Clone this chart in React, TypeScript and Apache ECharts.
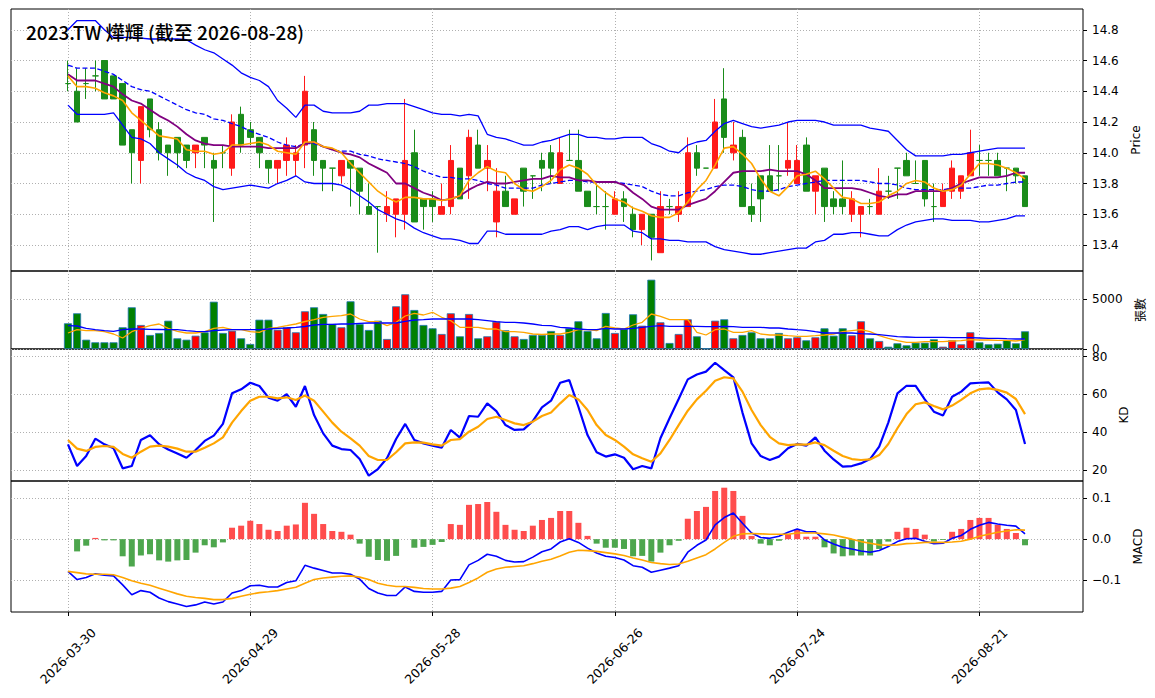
import React, { useEffect, useRef } from "react";
import * as echarts from "echarts";

const TITLE = "2023.TW 燁輝 (截至 2026-08-28)";

const DATES = [
  "2026-03-30", "2026-03-31",
  "2026-04-01", "2026-04-02", "2026-04-07", "2026-04-08", "2026-04-09", "2026-04-10", "2026-04-13", "2026-04-14",
  "2026-04-15", "2026-04-16", "2026-04-17", "2026-04-20", "2026-04-21", "2026-04-22", "2026-04-23", "2026-04-24",
  "2026-04-27", "2026-04-28", "2026-04-29", "2026-04-30",
  "2026-05-04", "2026-05-05", "2026-05-06", "2026-05-07", "2026-05-08", "2026-05-11", "2026-05-12", "2026-05-13",
  "2026-05-14", "2026-05-15", "2026-05-18", "2026-05-19", "2026-05-20", "2026-05-21", "2026-05-22", "2026-05-25",
  "2026-05-26", "2026-05-27", "2026-05-28", "2026-05-29",
  "2026-06-01", "2026-06-02", "2026-06-03", "2026-06-04", "2026-06-05", "2026-06-08", "2026-06-09", "2026-06-10",
  "2026-06-11", "2026-06-12", "2026-06-15", "2026-06-16", "2026-06-17", "2026-06-18", "2026-06-22", "2026-06-23",
  "2026-06-24", "2026-06-25", "2026-06-26", "2026-06-29", "2026-06-30",
  "2026-07-01", "2026-07-02", "2026-07-03", "2026-07-06", "2026-07-07", "2026-07-08", "2026-07-09", "2026-07-10",
  "2026-07-13", "2026-07-14", "2026-07-15", "2026-07-16", "2026-07-17", "2026-07-20", "2026-07-21", "2026-07-22",
  "2026-07-23", "2026-07-24", "2026-07-27", "2026-07-28", "2026-07-29", "2026-07-30", "2026-07-31",
  "2026-08-03", "2026-08-04", "2026-08-05", "2026-08-06", "2026-08-07", "2026-08-10", "2026-08-11", "2026-08-12",
  "2026-08-13", "2026-08-14", "2026-08-17", "2026-08-18", "2026-08-19", "2026-08-20", "2026-08-21", "2026-08-24",
  "2026-08-25", "2026-08-26", "2026-08-27", "2026-08-28",
];

const OPEN = [
  14.45, 14.4, 14.45, 14.5, 14.6, 14.5, 14.45, 14.15, 13.95, 14.35,
  14.15, 14.05, 14.1, 14.05, 14.0, 14.1, 13.95, 14.0, 13.9, 14.25,
  14.15, 14.1, 13.95, 13.9, 13.95, 13.95, 14.05, 14.15, 13.95, 13.9,
  13.85, 13.95, 13.9, 13.65, 13.65, 13.6, 13.6, 13.6, 14.0, 13.7,
  13.7, 13.6, 13.65, 13.9, 13.85, 14.05, 13.9, 13.55, 13.75, 13.6,
  13.9, 13.85, 13.95, 14.0, 13.8, 13.95, 13.95, 13.75, 13.65, 13.65,
  13.6, 13.7, 13.6, 13.5, 13.6, 13.35, 13.65, 13.6, 13.65, 14.0,
  13.9, 13.9, 14.35, 14.0, 14.1, 13.65, 13.85, 13.85, 13.85, 13.9,
  13.8, 14.05, 13.75, 13.9, 13.7, 13.7, 13.6, 13.6, 13.65, 13.6,
  13.75, 13.9, 13.95, 13.8, 13.95, 13.65, 13.65, 13.75, 13.75, 13.85,
  13.95, 13.95, 13.95, 13.9, 13.9, 13.85,
];
const CLOSE = [
  14.45, 14.2, 14.45, 14.5, 14.35, 14.35, 14.05, 14.0, 14.3, 14.15,
  14.0, 14.0, 14.0, 13.95, 14.05, 14.05, 13.9, 14.0, 14.2, 14.05,
  14.1, 14.0, 13.9, 13.95, 14.05, 14.0, 14.4, 13.95, 13.9, 13.9,
  13.95, 13.9, 13.75, 13.6, 13.65, 13.65, 13.7, 13.95, 13.55, 13.65,
  13.65, 13.65, 13.95, 13.7, 14.1, 13.9, 13.95, 13.75, 13.65, 13.7,
  13.75, 13.85, 13.9, 13.9, 14.0, 13.95, 13.75, 13.65, 13.65, 13.65,
  13.7, 13.65, 13.5, 13.6, 13.45, 13.65, 13.65, 13.65, 14.0, 13.9,
  13.9, 14.2, 14.1, 14.05, 13.65, 13.6, 13.7, 13.75, 13.85, 13.95,
  13.95, 13.75, 13.85, 13.65, 13.65, 13.65, 13.7, 13.65, 13.65, 13.75,
  13.75, 13.9, 13.85, 13.8, 13.7, 13.65, 13.75, 13.9, 13.85, 14.0,
  13.95, 13.95, 13.85, 13.9, 13.85, 13.65,
];
const HIGH = [
  14.6, 14.55, 14.55, 14.6, 14.6, 14.5, 14.45, 14.15, 14.3, 14.35,
  14.2, 14.05, 14.1, 14.05, 14.05, 14.1, 14.0, 14.05, 14.25, 14.3,
  14.2, 14.1, 13.95, 13.95, 14.1, 14.05, 14.5, 14.2, 13.95, 13.9,
  13.95, 13.95, 13.9, 13.8, 13.65, 13.75, 13.7, 14.35, 14.15, 13.7,
  13.75, 13.8, 14.05, 13.9, 14.15, 14.15, 14.05, 13.9, 13.85, 13.7,
  13.9, 13.85, 14.0, 14.05, 14.1, 14.15, 14.15, 13.75, 13.8, 13.75,
  13.75, 13.75, 13.65, 13.6, 13.6, 13.75, 13.7, 13.75, 14.1, 14.05,
  13.9, 14.35, 14.55, 14.2, 14.15, 13.8, 13.85, 14.05, 14.05, 14.2,
  14.05, 14.1, 13.85, 13.9, 13.75, 13.95, 13.75, 13.65, 13.7, 13.9,
  13.85, 13.9, 14.0, 13.95, 13.95, 13.8, 13.8, 13.95, 13.85, 14.15,
  14.05, 14.0, 14.0, 13.9, 13.9, 13.85,
];
const LOW = [
  14.4, 14.2, 14.35, 14.4, 14.35, 14.35, 14.05, 13.8, 13.8, 14.1,
  13.95, 13.85, 13.9, 13.9, 13.9, 13.9, 13.55, 13.9, 13.85, 14.0,
  14.05, 13.9, 13.8, 13.8, 13.85, 13.85, 13.9, 13.85, 13.75, 13.75,
  13.8, 13.65, 13.6, 13.6, 13.35, 13.55, 13.45, 13.5, 13.55, 13.5,
  13.55, 13.6, 13.6, 13.7, 13.7, 13.9, 13.75, 13.45, 13.65, 13.6,
  13.65, 13.7, 13.75, 13.8, 13.8, 13.95, 13.75, 13.65, 13.6, 13.5,
  13.6, 13.55, 13.45, 13.4, 13.3, 13.35, 13.6, 13.55, 13.65, 13.85,
  13.9, 13.9, 14.0, 13.95, 13.65, 13.55, 13.55, 13.75, 13.75, 13.85,
  13.8, 13.75, 13.6, 13.55, 13.6, 13.6, 13.55, 13.45, 13.6, 13.6,
  13.7, 13.7, 13.85, 13.8, 13.65, 13.55, 13.65, 13.7, 13.7, 13.85,
  13.85, 13.85, 13.85, 13.75, 13.8, 13.65,
];

const BB_UPPER = [
  14.8, 14.86, 14.86, 14.86, 14.8, 14.75, 14.75, 14.75, 14.745, 14.74,
  14.74, 14.74, 14.74, 14.735, 14.7, 14.67, 14.65, 14.61, 14.57, 14.52,
  14.49, 14.47, 14.43, 14.34, 14.29, 14.23, 14.31, 14.31, 14.27, 14.26,
  14.26, 14.26, 14.27, 14.31, 14.31, 14.32, 14.32, 14.32, 14.3, 14.28,
  14.26, 14.25, 14.25, 14.24, 14.25, 14.24, 14.12, 14.1, 14.09, 14.07,
  14.05, 14.05, 14.07, 14.08, 14.1, 14.12, 14.12, 14.1, 14.1, 14.09,
  14.09, 14.1, 14.1, 14.1, 14.06, 14.04, 14.01, 14.0, 14.05, 14.07,
  14.08, 14.14, 14.19, 14.21, 14.19, 14.17, 14.16, 14.17, 14.18, 14.2,
  14.21, 14.21, 14.21, 14.2, 14.18, 14.18, 14.18, 14.18, 14.16, 14.15,
  14.14, 14.08, 14.02, 13.98, 13.98, 13.98, 13.98, 13.99, 13.99, 14.0,
  14.01, 14.02, 14.03, 14.03, 14.03, 14.03,
];
const BB_MID = [
  14.57, 14.55, 14.55, 14.55, 14.53, 14.51, 14.47, 14.43, 14.41, 14.4,
  14.37, 14.34, 14.31, 14.28, 14.26, 14.25, 14.22, 14.21, 14.19, 14.17,
  14.14, 14.12, 14.1, 14.07, 14.05, 14.04, 14.06, 14.06, 14.04, 14.02,
  14.01, 14.01, 13.99, 13.98, 13.96, 13.95, 13.94, 13.93, 13.91, 13.88,
  13.86, 13.84, 13.84, 13.83, 13.83, 13.82, 13.8, 13.79, 13.77, 13.77,
  13.77, 13.77, 13.79, 13.8, 13.81, 13.82, 13.82, 13.81, 13.81, 13.81,
  13.81, 13.8, 13.79, 13.78, 13.75, 13.73, 13.72, 13.72, 13.74, 13.75,
  13.76, 13.78, 13.79, 13.79, 13.78, 13.76, 13.75, 13.75, 13.76, 13.78,
  13.79, 13.8, 13.81, 13.82, 13.82, 13.82, 13.82, 13.82, 13.81, 13.8,
  13.8, 13.79, 13.77, 13.76, 13.76, 13.76, 13.76, 13.77, 13.77, 13.77,
  13.78, 13.79, 13.79, 13.8, 13.81, 13.81,
];
const BB_LOWER = [
  14.31, 14.25, 14.25, 14.25, 14.25, 14.26, 14.18, 14.1, 14.09, 14.06,
  14.0, 13.96, 13.92, 13.87, 13.84, 13.82, 13.78, 13.76, 13.77, 13.78,
  13.79, 13.78, 13.77, 13.8, 13.82, 13.85, 13.81, 13.8, 13.8, 13.8,
  13.79, 13.76, 13.72, 13.68, 13.63, 13.6, 13.57, 13.55, 13.51, 13.48,
  13.46, 13.44, 13.44, 13.43, 13.41, 13.41, 13.49, 13.49, 13.47, 13.47,
  13.47, 13.47, 13.47, 13.49, 13.5, 13.52, 13.52, 13.5, 13.52, 13.53,
  13.53, 13.53, 13.49, 13.48, 13.44, 13.44, 13.43, 13.43, 13.42, 13.42,
  13.42, 13.39, 13.37, 13.36, 13.35, 13.34, 13.34, 13.35, 13.36, 13.37,
  13.38, 13.38, 13.42, 13.43, 13.47, 13.47, 13.48, 13.48, 13.47, 13.46,
  13.46, 13.5, 13.53, 13.55, 13.56, 13.57, 13.57, 13.56, 13.56, 13.56,
  13.55, 13.55, 13.56, 13.57, 13.59, 13.59,
];
const MA5 = [
  14.5, 14.43, 14.43, 14.42, 14.39, 14.37, 14.34, 14.26, 14.21, 14.16,
  14.11, 14.1, 14.09, 14.02, 14.01, 14.01, 13.99, 14.0, 14.05, 14.05,
  14.06, 14.07, 14.05, 14.01, 14.0, 13.99, 14.07, 14.07, 14.04, 14.03,
  14.0, 13.93, 13.87, 13.81, 13.75, 13.71, 13.68, 13.71, 13.71, 13.7,
  13.7, 13.69, 13.7, 13.72, 13.82, 13.87, 13.91, 13.88, 13.87, 13.8,
  13.76, 13.75, 13.78, 13.82, 13.89, 13.92, 13.9, 13.86, 13.79, 13.74,
  13.7, 13.68, 13.64, 13.62, 13.59, 13.58, 13.58, 13.61, 13.68, 13.76,
  13.82, 13.92, 14.03, 14.04, 13.99, 13.93, 13.83, 13.75, 13.72, 13.78,
  13.85, 13.86, 13.88, 13.83, 13.77, 13.71, 13.7, 13.67, 13.67, 13.68,
  13.72, 13.75, 13.8, 13.82, 13.81, 13.77, 13.75, 13.76, 13.79, 13.86,
  13.93, 13.93, 13.92, 13.9, 13.87, 13.83,
];
const MA10 = [
  14.51, 14.47, 14.47, 14.47, 14.45, 14.43, 14.38, 14.34, 14.32, 14.28,
  14.24, 14.21, 14.17, 14.12, 14.08, 14.06, 14.05, 14.05, 14.04, 14.04,
  14.04, 14.04, 14.03, 14.03, 14.03, 14.03, 14.06, 14.07, 14.04, 14.02,
  14.0, 13.99, 13.97, 13.93, 13.9, 13.87, 13.8, 13.8, 13.77, 13.74,
  13.72, 13.69, 13.7, 13.72, 13.76, 13.79, 13.81, 13.8, 13.8, 13.81,
  13.82, 13.83, 13.83, 13.85, 13.84, 13.84, 13.82, 13.82, 13.81, 13.81,
  13.81, 13.79, 13.74, 13.7, 13.65, 13.63, 13.63, 13.63, 13.66, 13.68,
  13.7, 13.75, 13.81, 13.87, 13.88, 13.88, 13.88, 13.89, 13.88, 13.88,
  13.88, 13.86, 13.82, 13.77, 13.77, 13.77, 13.77, 13.76, 13.74, 13.72,
  13.71, 13.73, 13.73, 13.75, 13.75, 13.75, 13.75, 13.77, 13.8, 13.82,
  13.84, 13.84, 13.84, 13.85, 13.87, 13.87,
];

const VOLUME = [
  2570, 3570, 930, 670, 670, 670, 2170, 4170, 2400, 1400,
  1600, 2830, 1070, 930, 1330, 1670, 4730, 1600, 1830, 1070,
  500, 2930, 2930, 1930, 2170, 1670, 3770, 4170, 3500, 2500,
  2170, 4770, 2500, 1900, 2830, 1000, 4270, 5470, 3900, 2400,
  2070, 1500, 3570, 1270, 3500, 1070, 1270, 2730, 1870, 1270,
  1000, 1400, 1400, 1800, 1400, 2070, 2770, 1800, 1070, 3600,
  1600, 2000, 3470, 2330, 6930, 2670, 600, 1500, 2970, 1270,
  50, 2830, 2970, 1070, 1400, 1670, 1070, 1070, 1600, 1070,
  1170, 870, 1170, 2070, 1330, 2070, 1370, 2770, 1070, 800,
  230, 570, 370, 630, 630, 970, 230, 870, 470, 1670,
  670, 470, 530, 900, 570, 1770,
];
const VOL_MA5 = [
  1600, 1930, 1830, 1830, 1730, 1500, 1100, 1730, 2070, 2330,
  2500, 2070, 1770, 1600, 1600, 1730, 2070, 2170, 1930, 1930,
  1730, 1670, 2070, 2170, 2330, 2500, 2750, 2930, 3170, 3270,
  3330, 3500, 3000, 2730, 2730, 2330, 2670, 3300, 3570, 3400,
  3670, 3170, 2830, 2170, 2170, 2170, 2000, 2000, 1730, 1730,
  1670, 1500, 1450, 1500, 1500, 1670, 1930, 1930, 1830, 2270,
  2100, 2000, 2400, 2670, 3500, 3270, 2930, 2930, 2930, 1670,
  1400, 1930, 2000, 1670, 1670, 1830, 1500, 1400, 1400, 1330,
  1270, 1270, 1330, 1400, 1500, 1730, 1830, 1930, 1730, 1330,
  1070, 830, 670, 670, 730, 730, 730, 800, 830, 930,
  900, 900, 870, 870, 800, 930,
];
const VOL_MA20 = [
  2330, 2300, 2070, 1930, 1830, 1770, 1930, 2000, 2000, 1970,
  1950, 1930, 1930, 1830, 1770, 1730, 1830, 1900, 1930, 1930,
  1930, 1930, 2000, 2070, 2100, 2170, 2250, 2400, 2470, 2470,
  2500, 2500, 2570, 2600, 2600, 2600, 2600, 2770, 2900, 2930,
  3000, 3000, 3000, 3000, 3000, 2930, 2830, 2730, 2670, 2670,
  2600, 2500, 2370, 2330, 2170, 2100, 2000, 1930, 1930, 2070,
  2000, 2000, 2070, 2170, 2270, 2330, 2270, 2270, 2270, 2270,
  2230, 2230, 2270, 2230, 2170, 2170, 2170, 2100, 2100, 2000,
  1930, 1870, 1730, 1600, 1600, 1600, 1600, 1530, 1500, 1430,
  1330, 1230, 1200, 1170, 1170, 1170, 1170, 1130, 1130, 1130,
  1100, 1070, 1070, 1030, 1000, 1000,
];

const K_LINE = [
  33.6, 22.1, 27.4, 36.6, 33.6, 31.5, 20.9, 22.1, 35.9, 38.4,
  33.6, 30.9, 28.8, 26.5, 30.6, 35.4, 38.2, 44.4, 60.6, 62.7,
  66.2, 64.5, 58.3, 56.7, 60.1, 53.5, 64.5, 49.1, 39.4, 32.9,
  31.1, 30.6, 25.8, 17.0, 20.5, 26.2, 36.4, 44.4, 35.9, 34.1,
  32.9, 31.8, 41.2, 37.1, 48.6, 48.2, 55.3, 51.2, 43.8, 41.2,
  41.5, 45.9, 53.2, 56.7, 66.2, 67.6, 53.5, 38.5, 29.4, 27.1,
  28.3, 26.5, 20.4, 22.1, 20.9, 36.8, 47.4, 57.6, 68.0, 70.6,
  72.1, 76.8, 72.9, 69.1, 50.4, 34.1, 27.4, 25.3, 27.1, 31.5,
  33.8, 32.9, 37.3, 30.2, 25.6, 21.8, 22.1, 23.5, 25.8, 32.4,
  45.1, 60.6, 64.6, 64.5, 57.4, 50.9, 48.8, 58.8, 61.5, 65.9,
  66.2, 66.4, 61.1, 57.4, 51.8, 33.8,
];
const D_LINE = [
  35.9, 31.3, 30.1, 32.2, 32.7, 32.2, 28.5, 26.5, 29.7, 32.4,
  32.9, 32.4, 31.3, 29.7, 29.7, 31.8, 34.1, 37.3, 45.1, 51.2,
  56.7, 58.8, 58.8, 57.9, 58.5, 57.1, 59.4, 56.7, 50.9, 45.1,
  40.3, 36.8, 32.9, 27.4, 25.3, 25.3, 29.4, 34.1, 34.6, 34.5,
  33.6, 32.9, 35.9, 36.4, 40.3, 42.9, 47.0, 48.2, 46.5, 44.7,
  43.8, 45.6, 48.6, 50.4, 55.3, 59.7, 57.4, 51.8, 43.8, 38.5,
  35.9, 32.4, 28.3, 26.2, 24.4, 28.8, 35.9, 43.8, 51.4, 57.4,
  62.0, 67.3, 69.1, 68.5, 61.5, 51.8, 43.8, 37.6, 34.1, 33.2,
  33.6, 33.4, 34.6, 33.2, 30.2, 27.4, 25.8, 25.3, 25.6, 27.9,
  33.8, 42.1, 49.6, 54.8, 55.8, 53.9, 52.1, 54.1, 57.1, 60.6,
  62.7, 63.2, 62.4, 61.0, 57.6, 49.6,
];

const DIF = [
  -0.079, -0.099, -0.094, -0.085, -0.088, -0.09, -0.112, -0.136, -0.126, -0.13,
  -0.144, -0.153, -0.159, -0.165, -0.161, -0.154, -0.159, -0.154, -0.132, -0.126,
  -0.114, -0.113, -0.117, -0.117, -0.106, -0.102, -0.064, -0.071, -0.077, -0.083,
  -0.083, -0.086, -0.098, -0.121, -0.132, -0.138, -0.138, -0.117, -0.128, -0.13,
  -0.13, -0.128, -0.1, -0.099, -0.063, -0.052, -0.037, -0.042, -0.052, -0.056,
  -0.055, -0.044, -0.031, -0.024, -0.007, 0.001, -0.008, -0.022, -0.034, -0.042,
  -0.045, -0.051, -0.065, -0.069, -0.081, -0.076, -0.071, -0.065, -0.032, -0.015,
  -0.002, 0.035, 0.053, 0.064, 0.039, 0.015, 0.004, 0.002, 0.007, 0.017,
  0.025, 0.018, 0.018, -0.002, -0.012, -0.02, -0.024, -0.029, -0.032, -0.028,
  -0.018, -0.006, 0.001, 0.002, -0.005, -0.011, -0.01, 0.002, 0.009, 0.024,
  0.034, 0.041, 0.037, 0.034, 0.032, 0.013,
];
const DEA = [
  -0.079, -0.082, -0.085, -0.086, -0.086, -0.087, -0.094, -0.102, -0.108, -0.113,
  -0.12, -0.127, -0.134, -0.14, -0.143, -0.145, -0.148, -0.148, -0.145, -0.14,
  -0.135, -0.131, -0.129, -0.126, -0.122, -0.118, -0.108, -0.099, -0.095, -0.093,
  -0.091, -0.09, -0.093, -0.099, -0.108, -0.113, -0.116, -0.116, -0.118, -0.121,
  -0.122, -0.122, -0.12, -0.116, -0.106, -0.095, -0.081, -0.073, -0.069, -0.067,
  -0.065, -0.06, -0.054, -0.049, -0.041, -0.032, -0.027, -0.028, -0.03, -0.033,
  -0.036, -0.04, -0.046, -0.051, -0.057, -0.06, -0.062, -0.061, -0.054, -0.046,
  -0.038, -0.024, -0.008, 0.007, 0.013, 0.014, 0.013, 0.012, 0.012, 0.012,
  0.015, 0.015, 0.015, 0.013, 0.01, 0.005, 0.0, -0.006, -0.01, -0.014,
  -0.015, -0.014, -0.011, -0.01, -0.008, -0.008, -0.008, -0.007, -0.005, 0.0,
  0.007, 0.012, 0.017, 0.02, 0.023, 0.022,
];
const HIST = [
  0.0, -0.03, -0.016, 0.003, -0.003, -0.003, -0.042, -0.067, -0.04, -0.037,
  -0.052, -0.055, -0.052, -0.051, -0.033, -0.015, -0.02, -0.008, 0.028, 0.033,
  0.045, 0.037, 0.023, 0.02, 0.033, 0.036, 0.089, 0.062, 0.037, 0.02,
  0.018, 0.011, -0.011, -0.043, -0.051, -0.053, -0.041, 0.0, -0.021, -0.019,
  -0.014, -0.007, 0.037, 0.035, 0.084, 0.086, 0.091, 0.067, 0.035, 0.023,
  0.02, 0.033, 0.047, 0.052, 0.069, 0.069, 0.04, 0.008, -0.011, -0.021,
  -0.021, -0.024, -0.042, -0.041, -0.055, -0.033, -0.015, -0.004, 0.05, 0.069,
  0.079, 0.118, 0.126, 0.118, 0.057, 0.008, -0.011, -0.015, -0.004, 0.012,
  0.024, 0.006, 0.006, -0.02, -0.035, -0.042, -0.04, -0.04, -0.04, -0.024,
  -0.006, 0.018, 0.028, 0.025, 0.011, -0.006, -0.002, 0.018, 0.025, 0.047,
  0.052, 0.052, 0.035, 0.025, 0.015, -0.015,
];

const X_TICKS = [0, 20, 40, 60, 80, 100];
const PRICE_TICKS = [13.4, 13.6, 13.8, 14.0, 14.2, 14.4, 14.6, 14.8];
const VOL_TICKS = [0, 5000];
const KD_TICKS = [20, 40, 60, 80];
const MACD_TICKS = [-0.1, 0, 0.1];

const FONT = "'DejaVu Sans', 'Noto Sans CJK TC', sans-serif";
const CJK_FONT = "'Noto Sans CJK TC', 'DejaVu Sans', sans-serif";
const RED_C = "#ff1a1a";
const GREEN_C = "#1a8c1a";
const GRID_LINE = { show: true, lineStyle: { color: "#b0b0b0", type: [1, 2], width: 1 } };

const XMIN = -6.25;
const XMAX = 111.36;

function pts(arr: number[]) {
  return arr.map((v, i) => [i, v]);
}

export default function App() {
  const ref = useRef<HTMLDivElement>(null);

  useEffect(() => {
    if (!ref.current) return;
    const chart = echarts.init(ref.current, null, { renderer: "svg" });

    const grids = [
      { top: 9, height: 262 },
      { top: 271, height: 78 },
      { top: 349, height: 132 },
      { top: 481, height: 131 },
    ].map((g) => ({
      ...g,
      left: 11,
      right: 72,
      show: true,
      borderColor: "#000",
      borderWidth: 1,
      backgroundColor: "transparent",
    }));

    const xAxes = [0, 1, 2, 3].map((gi) => {
      const bottom = gi === 3;
      return {
        type: "value",
        gridIndex: gi,
        min: XMIN,
        max: XMAX,
        axisLine: { show: false, onZero: false },
        axisTick: {
          show: bottom,
          customValues: X_TICKS,
          length: 4,
          lineStyle: { color: "#000" },
        },
        axisLabel: bottom
          ? {
              show: true,
              customValues: X_TICKS,
              formatter: (v: number) => DATES[Math.round(v)] || "",
              rotate: 45,
              align: "center",
              verticalAlign: "middle",
              margin: 44,
              fontSize: 12.5,
              color: "#000",
              fontFamily: FONT,
            }
          : { show: false },
        splitLine: GRID_LINE,
      };
    });

    const yAxis = (
      gi: number,
      min: number,
      max: number,
      ticks: number[],
      fmt: (v: number) => string,
      name: string,
      nameGap: number,
      nameFont: string
    ) => ({
      type: "value",
      gridIndex: gi,
      position: "right",
      min,
      max,
      axisLine: { show: false, onZero: false },
      axisTick: { show: true, customValues: ticks, length: 4, lineStyle: { color: "#000" } },
      axisLabel: {
        show: true,
        customValues: ticks,
        formatter: fmt,
        margin: 9,
        fontSize: 12,
        color: "#000",
        fontFamily: FONT,
      },
      splitLine: GRID_LINE,
      name,
      nameLocation: "middle",
      nameGap,
      nameRotate: 90,
      nameTextStyle: { fontSize: 12, color: "#000", fontFamily: nameFont },
    });

    const macdFmt = (v: number) => {
      const s = Math.abs(v) < 1e-9 ? "0.0" : v.toFixed(1);
      return s.replace("-", "\u2212");
    };

    const yAxes = [
      yAxis(0, 13.231, 14.935, PRICE_TICKS, (v) => v.toFixed(1), "Price", 40, FONT),
      yAxis(1, 0, 7800, VOL_TICKS, (v) => String(Math.round(v)), "張數", 44, CJK_FONT),
      yAxis(2, 14.18, 84.07, KD_TICKS, (v) => String(Math.round(v)), "KD", 29, FONT),
      yAxis(3, -0.1784, 0.1424, MACD_TICKS, macdFmt, "MACD", 38, FONT),
    ];

    const line = (
      name: string,
      data: number[],
      gi: number,
      color: string,
      width: number,
      type: any = "solid"
    ) => ({
      type: "line",
      name,
      xAxisIndex: gi,
      yAxisIndex: gi,
      data: pts(data),
      showSymbol: false,
      symbol: "none",
      lineStyle: { color, width, type },
      z: 3,
    });

    const series: any[] = [
      {
        type: "candlestick",
        name: "K",
        xAxisIndex: 0,
        yAxisIndex: 0,
        encode: { x: 0, y: [1, 2, 3, 4] },
        data: OPEN.map((o, i) => [i, o, CLOSE[i], LOW[i], HIGH[i]]),
        barWidth: 6,
        itemStyle: {
          color: RED_C,
          color0: GREEN_C,
          borderColor: RED_C,
          borderColor0: GREEN_C,
          borderColorDoji: GREEN_C,
          borderWidth: 1,
        },
        z: 2,
      },
      line("BB Upper", BB_UPPER, 0, "#0000ff", 1.3),
      line("BB Mid", BB_MID, 0, "#0000ff", 1.3, [5, 2.5]),
      line("BB Lower", BB_LOWER, 0, "#0000ff", 1.3),
      line("MA10", MA10, 0, "#800080", 1.8),
      line("MA5", MA5, 0, "#ffa500", 1.6),
      {
        type: "bar",
        name: "Volume",
        xAxisIndex: 1,
        yAxisIndex: 1,
        barWidth: 8,
        data: VOLUME.map((v, i) => ({
          value: [i, v],
          itemStyle: { color: CLOSE[i] > OPEN[i] ? "#ff0000" : "#008000" },
        })),
        itemStyle: { borderColor: "#1f77b4", borderWidth: 0.8 },
        z: 2,
      },
      line("Vol MA5", VOL_MA5, 1, "#ffa500", 1.3),
      line("Vol MA20", VOL_MA20, 1, "#0000ff", 1.3),
      line("K", K_LINE, 2, "#0000ff", 2.2),
      line("D", D_LINE, 2, "#ffa500", 2.2),
      {
        type: "bar",
        name: "Hist",
        xAxisIndex: 3,
        yAxisIndex: 3,
        barWidth: 6,
        data: HIST.map((v, i) => ({
          value: [i, v],
          itemStyle: { color: v >= 0 ? "#ff4d4d" : "#4da64d" },
        })),
        z: 2,
      },
      line("DIF", DIF, 3, "#0000ff", 1.6),
      line("DEA", DEA, 3, "#ffa500", 1.6),
    ];

    chart.setOption({
      animation: false,
      backgroundColor: "#ffffff",
      grid: grids,
      xAxis: xAxes,
      yAxis: yAxes,
      series,
      graphic: [
        {
          type: "text",
          x: 26,
          y: 31,
          z: 100,
          style: {
            text: TITLE,
            fill: "#000",
            fontSize: 19,
            fontWeight: 500,
            fontFamily: CJK_FONT,
            verticalAlign: "middle",
            textVerticalAlign: "middle",
          },
        },
      ],
    });

    return () => chart.dispose();
  }, []);

  return (
    <div
      ref={ref}
      style={{
        position: "fixed",
        left: 0,
        top: 0,
        width: 1155,
        height: 698,
        background: "#fff",
      }}
    />
  );
}
